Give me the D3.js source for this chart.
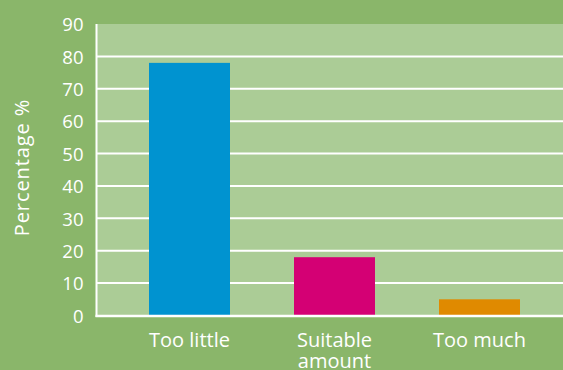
<!DOCTYPE html>
<html><head><meta charset="utf-8">
<script src="https://cdn.jsdelivr.net/npm/d3@7"></script>
<style>html,body{margin:0;padding:0;background:#8ab66a;overflow:hidden}</style>
</head><body>
<svg id="c" width="563" height="370"></svg>
<script>
const categories = [["Too little"], ["Suitable", "amount"], ["Too much"]];
const values = [78, 18, 5];
const colors = ["#0093d0", "#d40074", "#e08a00"];
const yTicks = [0, 10, 20, 30, 40, 50, 60, 70, 80, 90];
const yLabel = "Percentage %";

const W = 563, H = 370;
const mLeft = 96.5, mTop = 24, mBottom = 315.5;
const svg = d3.select("#c");
svg.append("rect").attr("width", W).attr("height", H).attr("fill", "#8ab66a");
svg.append("rect").attr("x", mLeft).attr("y", mTop).attr("width", W - mLeft).attr("height", mBottom - mTop).attr("fill", "#abcc96");

const keys = categories.map(c => c.join(" "));
const x = d3.scaleBand().domain(keys).range([117, 552]).paddingInner(0.4414).paddingOuter(0.2207);
const y = d3.scaleLinear().domain([0, 90]).range([mBottom, mTop]);
const font = "'Open Sans', Roboto, sans-serif";

// grid
svg.append("g").selectAll("line").data(yTicks.filter(t => t > 0 && t < 90)).join("line")
  .attr("x1", mLeft).attr("x2", W).attr("y1", d => y(d)).attr("y2", d => y(d))
  .attr("stroke", "#ffffff").attr("stroke-width", 2);

// bars
svg.append("g").selectAll("rect").data(values).join("rect")
  .attr("x", (d, i) => x(keys[i])).attr("width", x.bandwidth())
  .attr("y", d => y(d)).attr("height", d => y(0) - y(d))
  .attr("fill", (d, i) => colors[i]);

// axes lines
svg.append("line").attr("x1", mLeft).attr("x2", mLeft).attr("y1", mTop).attr("y2", mBottom + 1.5)
  .attr("stroke", "#fff").attr("stroke-width", 2);
svg.append("line").attr("x1", mLeft - 1).attr("x2", W).attr("y1", mBottom + 0.5).attr("y2", mBottom + 0.5)
  .attr("stroke", "#fff").attr("stroke-width", 2.5);

// y axis tick labels
const yAxis = d3.axisLeft(y).tickValues(yTicks).tickSize(0).tickPadding(13);
const ga = svg.append("g").attr("transform", `translate(${mLeft},0)`).call(yAxis);
ga.select(".domain").remove();
ga.selectAll("text").attr("fill", "#fff").attr("dy", "0.36em").style("font-family", font).style("font-size", "18.5px");

// x labels
const xl = svg.append("g").selectAll("text").data(categories).join("text")
  .attr("x", (d, i) => x(keys[i]) + x.bandwidth() / 2)
  .attr("y", 347).attr("text-anchor", "middle").attr("fill", "#fff")
  .style("font-family", font).style("font-size", "20px");
xl.selectAll("tspan").data(d => d).join("tspan")
  .attr("x", function () { return this.parentNode.getAttribute("x"); })
  .attr("dy", (d, i) => i === 0 ? 0 : 21).text(d => d);

svg.append("text").attr("transform", `translate(29,167.5) rotate(-90)`)
  .attr("text-anchor", "middle").attr("fill", "#fff")
  .style("font-family", font).style("font-size", "20px").style("letter-spacing", "0.9px").text(yLabel);
</script>
</body></html>
